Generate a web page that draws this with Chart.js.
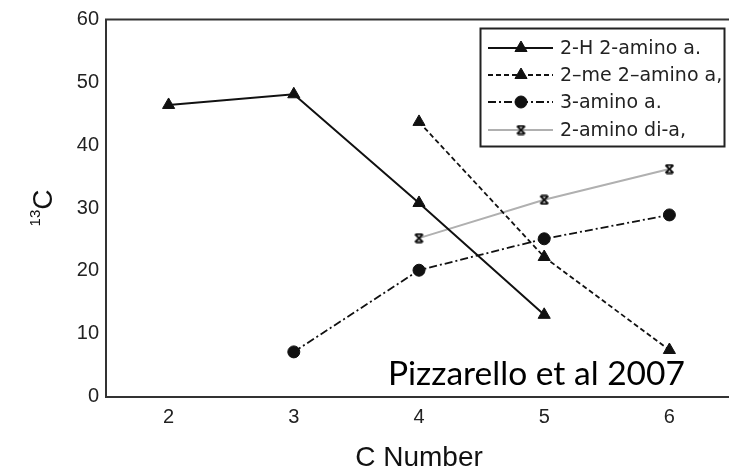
<!DOCTYPE html>
<html><head><meta charset="utf-8">
<script src="https://cdn.jsdelivr.net/npm/chart.js@4/dist/chart.umd.min.js"></script>
<style>html,body{margin:0;padding:0;background:#fff;overflow:hidden}#wrap{width:740px;height:474px}</style>
</head><body><div id="wrap"><canvas id="c" width="740" height="474"></canvas></div>
<script>
const cNumbers = [2, 3, 4, 5, 6];
const seriesNames = ['2-H 2-amino a.', '2–me 2–amino a,', '3-amino a.', '2-amino di-a,'];
const h2Amino = [46.4, 48.1, 30.8, 13.0, null];
const me2Amino = [null, null, 43.7, 22.2, 7.4];
const amino3 = [null, 7.1, 20.1, 25.1, 28.9];
const aminoDi = [null, null, 25.2, 31.3, 36.2];
const xTicks = [2, 3, 4, 5, 6];
const yTicks = [0, 10, 20, 30, 40, 50, 60];
const yTitleSup = '13', yTitleMain = 'C';
const xTitle = 'C Number';
const noteText = 'Pizzarello et al 2007';

function makeAsterisk(size) {
  const c = document.createElement('canvas'); c.width = c.height = size;
  const g = c.getContext('2d'); g.strokeStyle = '#111'; g.lineWidth = 1.8;
  const m = 1.5, s = size - 1.5;
  g.beginPath();
  g.moveTo(m, m); g.lineTo(s, s); g.moveTo(s, m); g.lineTo(m, s);
  g.moveTo(m + 1, m); g.lineTo(s - 1, m); g.moveTo(m + 1, s); g.lineTo(s - 1, s);
  g.stroke();
  return c;
}
const asterisk = makeAsterisk(11);
const mk = vals => cNumbers.map((x, i) => ({ x, y: vals[i] }));

const legendRows = [48, 75, 102, 130];

const extras = {
  id: 'extras',
  afterDraw(chart) {
    const ctx = chart.ctx, a = chart.chartArea;
    ctx.save();
    // top frame line
    ctx.strokeStyle = '#333'; ctx.lineWidth = 2;
    ctx.beginPath(); ctx.moveTo(a.left - 1, a.top); ctx.lineTo(chart.width, a.top); ctx.stroke();
    // legend
    ctx.fillStyle = '#fff'; ctx.fillRect(480, 28, 244, 118);
    ctx.strokeStyle = '#222'; ctx.lineWidth = 2; ctx.strokeRect(480.5, 28.5, 244, 118);
    chart.data.datasets.forEach((ds, i) => {
      const y = legendRows[i];
      ctx.strokeStyle = ds.borderColor; ctx.lineWidth = ds.borderWidth;
      ctx.setLineDash(ds.borderDash || []);
      ctx.beginPath(); ctx.moveTo(488, y); ctx.lineTo(553, y); ctx.stroke();
      ctx.setLineDash([]);
      ctx.fillStyle = ds.pointBackgroundColor; ctx.strokeStyle = ds.pointBorderColor; ctx.lineWidth = 1;
      Chart.helpers.drawPoint(ctx, { pointStyle: ds.pointStyle, radius: ds.pointRadius, rotation: 0, borderWidth: 1 }, 521, y);
      ctx.fillStyle = '#222'; ctx.font = '19px "DejaVu Sans"'; ctx.textBaseline = 'middle'; ctx.textAlign = 'left';
      ctx.fillText(ds.label, 560, y + 1);
    });
    // y title with superscript
    ctx.save();
    ctx.translate(52, 208); ctx.rotate(-Math.PI / 2);
    ctx.fillStyle = '#111'; ctx.textBaseline = 'alphabetic'; ctx.textAlign = 'left';
    ctx.font = '15px "Liberation Sans"'; const w1 = ctx.measureText(yTitleSup).width;
    ctx.font = '28px "Liberation Sans"'; const w2 = ctx.measureText(yTitleMain).width;
    const x0 = -(w1 + w2) / 2;
    ctx.font = '15px "Liberation Sans"'; ctx.fillText(yTitleSup, x0, -12);
    ctx.font = '28px "Liberation Sans"'; ctx.fillText(yTitleMain, x0 + w1, 0);
    ctx.restore();
    // note
    ctx.fillStyle = '#000'; ctx.textBaseline = 'alphabetic'; ctx.textAlign = 'left';
    ctx.font = '100px Lato'; const wn = ctx.measureText(noteText).width;
    const fs = 100 * 297 / wn;
    ctx.font = fs.toFixed(2) + 'px Lato';
    ctx.fillText(noteText, 388, 385);
    ctx.restore();
  }
};

new Chart(document.getElementById('c'), {
  type: 'line',
  data: {
    datasets: [
      { label: seriesNames[0], data: mk(h2Amino), borderColor: '#111', borderWidth: 2, borderDash: [],
        pointStyle: 'triangle', pointRadius: 7, pointBackgroundColor: '#111', pointBorderColor: '#111', pointBorderWidth: 1 },
      { label: seriesNames[1], data: mk(me2Amino), borderColor: '#111', borderWidth: 1.8, borderDash: [5, 3],
        pointStyle: 'triangle', pointRadius: 7, pointBackgroundColor: '#111', pointBorderColor: '#111', pointBorderWidth: 1 },
      { label: seriesNames[2], data: mk(amino3), borderColor: '#111', borderWidth: 1.8, borderDash: [8, 3, 2, 3],
        pointStyle: 'circle', pointRadius: 6, pointBackgroundColor: '#111', pointBorderColor: '#111', pointBorderWidth: 1 },
      { label: seriesNames[3], data: mk(aminoDi), borderColor: '#b0b0b0', borderWidth: 2, borderDash: [],
        pointStyle: asterisk, pointRadius: 6, pointBackgroundColor: '#111', pointBorderColor: '#111', pointBorderWidth: 1 }
    ]
  },
  options: {
    responsive: false, animation: false, devicePixelRatio: 1,
    layout: { padding: { top: 19.5, right: 5, left: 0, bottom: 0 } },
    plugins: { legend: { display: false }, tooltip: { enabled: false } },
    scales: {
      x: {
        type: 'linear', min: 1.5, max: 6.5,
        grid: { display: false, drawTicks: false },
        border: { display: true, color: '#333', width: 2 },
        ticks: { font: { family: 'Liberation Sans', size: 20 }, color: '#222', padding: 9 },
        afterBuildTicks: s => { s.ticks = xTicks.map(v => ({ value: v })); },
        afterFit: s => { s.height = 77.5; },
        title: { display: true, text: xTitle, font: { family: 'Liberation Sans', size: 28, lineHeight: 1 }, color: '#111', padding: { top: 0, bottom: 2 } }
      },
      y: {
        type: 'linear', min: 0, max: 60,
        grid: { display: false, drawTicks: false },
        border: { display: true, color: '#333', width: 2 },
        ticks: { font: { family: 'Liberation Sans', size: 20 }, color: '#222', padding: 7 },
        afterBuildTicks: s => { s.ticks = yTicks.map(v => ({ value: v })); },
        afterFit: s => { s.width = 106; }
      }
    }
  },
  plugins: [extras]
});
</script></body></html>
